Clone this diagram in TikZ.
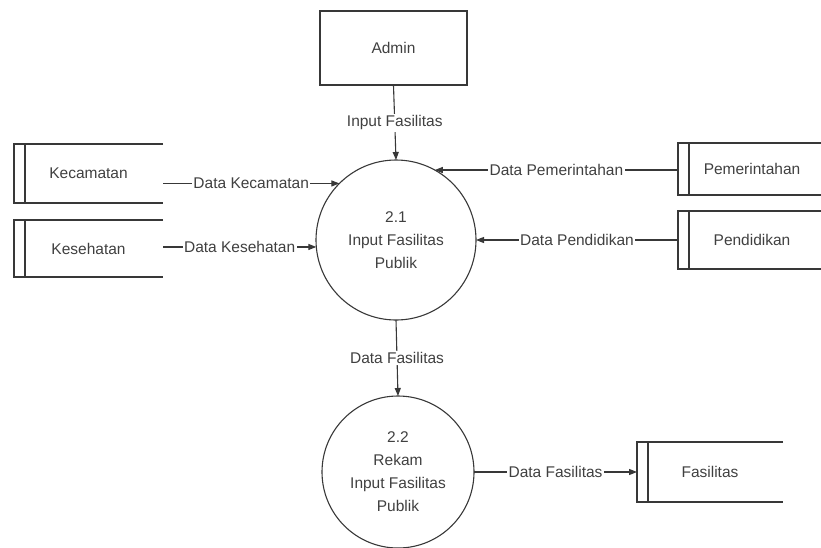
\documentclass[tikz,border=0pt]{standalone}
\usepackage{fontspec}
\setmainfont{Liberation Sans}
\usetikzlibrary{arrows.meta,calc}
\begin{document}
\begin{tikzpicture}[x=1pt,y=-1pt,
  ink/.style={draw=black!78, line width=1.1pt},
  every node/.style={text=black!75, font=\fontsize{15.5}{23}\selectfont},
  entity/.style={ink, rectangle, minimum width=147pt, minimum height=74pt, inner sep=0pt},
  process/.style={ink, circle, inner sep=0pt, outer sep=0pt, align=center},
  storebox/.style={rectangle, inner sep=0pt, outer sep=0pt},
  flow/.style={ink, -{Triangle[length=8pt,width=6pt]}},
  flowlabel/.style={fill=white, inner sep=1.5pt}
]
\useasboundingbox (0,0) rectangle (821,547);

% external entity and processes
\node[entity] (admin) at (393.5,48) {Admin};
\node[process, minimum size=160pt] (p21) at (396,240) {2.1\\Input Fasilitas\\Publik};
\node[process, minimum size=152pt] (p22) at (398,472) {2.2\\Rekam\\Input Fasilitas\\Publik};

% data stores (open on the right side)
\node[storebox, minimum width=149pt, minimum height=59pt] (kec) at (88.5,173.5) {Kecamatan};
\node[storebox, minimum width=149pt, minimum height=57pt] (kes) at (88.5,248.5) {Kesehatan};
\node[storebox, minimum width=148pt, minimum height=52pt] (pem) at (752,169) {Pemerintahan};
\node[storebox, minimum width=148pt, minimum height=58pt] (pen) at (752,240) {Pendidikan};
\node[storebox, minimum width=146pt, minimum height=60pt] (fas) at (710,472) {Fasilitas};

% left-hand stores
\foreach \s in {kec,kes}{
  \draw[ink] (\s.north east) -- (\s.north west) -- (\s.south west) -- (\s.south east);
  \draw[ink] ($(\s.north west)+(11,0)$) -- ($(\s.south west)+(11,0)$);
}
% right-hand stores, running up to the right edge
\foreach \s in {pem,pen}{
  \draw[ink] ($(\s.north east)+(-5,0)$) -- (\s.north west) -- (\s.south west) -- ($(\s.south east)+(-5,0)$);
  \draw[ink] ($(\s.north west)+(11,0)$) -- ($(\s.south west)+(11,0)$);
}
\draw[ink] (fas.north east) -- (fas.north west) -- (fas.south west) -- (fas.south east);
\draw[ink] ($(fas.north west)+(11,0)$) -- ($(fas.south west)+(11,0)$);

% data flows
\draw[flow] (admin.south) -- node[flowlabel]{Input Fasilitas} (p21.north);
\draw[flow] (p21.135.6 -| kec.east) -- node[flowlabel]{Data Kecamatan} (p21.135.6);
\draw[flow] (p21.185 -| kes.east) -- node[flowlabel]{Data Kesehatan} (p21.185);
\draw[flow] (p21.61 -| pem.west) -- node[flowlabel]{Data Pemerintahan} (p21.61);
\draw[flow] (p21.0 -| pen.west) -- node[flowlabel]{Data Pendidikan} (p21.0);
\draw[flow] (p21.south) -- node[flowlabel]{Data Fasilitas} (p22.north);
\draw[flow] (p22.east) -- node[flowlabel]{Data Fasilitas} (p22.east -| fas.west);
\end{tikzpicture}
\end{document}
